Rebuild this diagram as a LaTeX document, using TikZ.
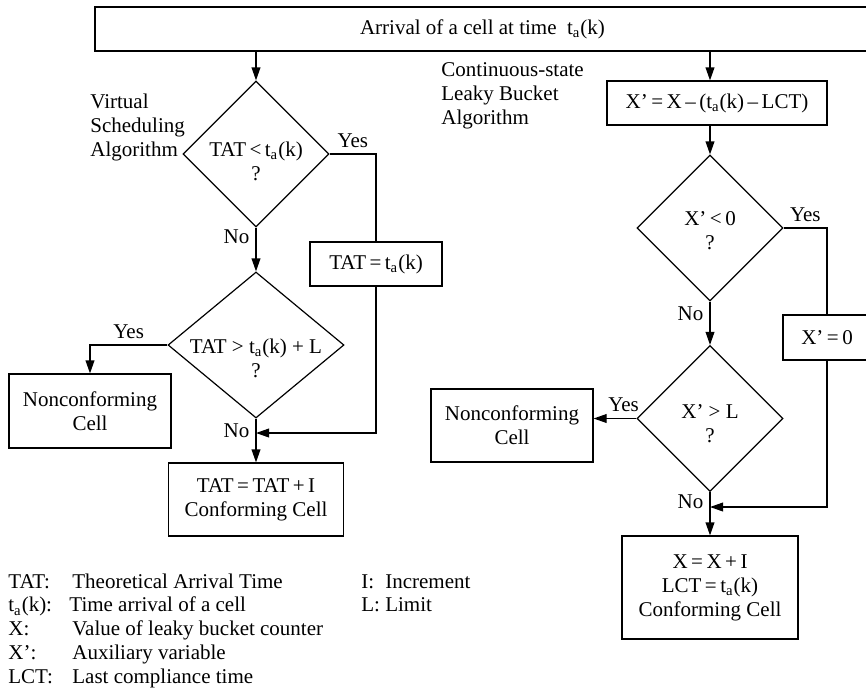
\documentclass[tikz,border=0pt]{standalone}
\usepackage{fontspec}
\setmainfont{Liberation Serif}
\usepackage{tikz}
\usetikzlibrary{arrows.meta,positioning,shapes.geometric}
\newcommand{\ta}{t\textsubscript{a}(k)}
\newcommand{\cond}[2][0pt]{\makebox[0pt]{\rule{0pt}{#1}#2}\\?}
\tikzset{
  flow/.style={line width=0.6pt,-{Triangle[length=6.5pt,width=4.4pt]}},
  link/.style={line width=0.6pt},
  process/.style={draw,line width=0.6pt,align=center,inner sep=2pt},
  decision/.style={draw,line width=0.6pt,diamond,align=center,inner sep=0pt,
    minimum width=73pt,minimum height=73pt},
  note/.style={align=left,inner sep=0pt},
  tag/.style={inner sep=3pt},
  keytext/.style={inner sep=0pt,font=\fontsize{10.5}{11.9}\selectfont}
}
\begin{document}
\begin{tikzpicture}[x=0.5pt,y=-0.5pt,font=\fontsize{10.5}{12}\selectfont]
  \useasboundingbox (0,0) rectangle (866,691);
  \node[process,minimum width=387.5pt,minimum height=22pt] (arr) at (482.5,29) {Arrival of a cell at time\ \ \ta};
  % virtual scheduling
  \node[decision] (d1) at (256,154) {\cond[14.3pt]{TAT\,<\,\ta}};
  \node[note,anchor=west] (vsa) at (90,127) {Virtual\\Scheduling\\Algorithm};
  \node[process,minimum width=66pt,minimum height=22pt] (b1) at (376,264) {TAT\,=\,\ta};
  \node[decision,minimum width=88pt] (d2) at (256,345) {\cond[20.3pt]{TAT > \ta{} + L}};
  \node[process,minimum width=81pt,minimum height=37pt] (nc1) at (90,411) {Nonconforming\\Cell};
  \node[process,minimum width=87.5pt,minimum height=36.5pt] (c1) at (256,499.5) {TAT\,=\,TAT\,+\,I\\Conforming Cell};
  \coordinate (j1) at (256,433);
  \draw[flow] (arr.south -| d1.north) -- (d1.north);
  \draw[flow] (d1.south) -- node[tag,left,pos=0.2]{No} (d2.north);
  \draw[link] (d1.east) -| node[tag,above,pos=0.25]{Yes} (b1.north);
  \draw[flow] (b1.south) |- (j1);
  \draw[flow] (d2.west) -| node[tag,above,pos=0.25]{Yes} (nc1.north);
  \draw[flow] (d2.south) -- node[tag,left,pos=0.27]{No} (c1.north);
  % leaky bucket
  \node[process,minimum width=110pt,minimum height=22pt] (xp) at (717,103) {X’\,=\,X\,–\,(\ta\,–\,LCT)};
  \node[note,anchor=west] (csa) at (441,96) {Continuous-state\\Leaky Bucket\\Algorithm};
  \node[decision] (d3) at (710,228) {\cond[9.6pt]{X’\,<\,0}};
  \node[process,minimum width=44pt,minimum height=22.5pt] (x0) at (827,337.5) {X’\,=\,0};
  \node[decision] (d4) at (710,418.5) {\cond[12.1pt]{X’ > L}};
  \node[process,minimum width=81pt,minimum height=36.5pt] (nc2) at (512,425.5) {Nonconforming\\Cell};
  \node[process,minimum width=88pt,minimum height=51.5pt] (c2) at (710,587.5) {X\,=\,X\,+\,I\\LCT\,=\,\ta\\Conforming Cell};
  \coordinate (j2) at (710,507);
  \draw[flow] (arr.south -| d3.north) -- (xp.north -| d3.north);
  \draw[flow] (xp.south -| d3.north) -- (d3.north);
  \draw[link] (d3.east) -| node[tag,above,pos=0.25]{Yes} (x0.north);
  \draw[flow] (d3.south) -- node[tag,left,pos=0.27]{No} (d4.north);
  \draw[flow] (d4.west) -- node[tag,above,pos=0.3]{Yes} (d4.west -| nc2.east);
  \draw[flow] (x0.south) |- (j2);
  \draw[flow] (d4.south) -- node[tag,left,pos=0.23]{No} (c2.north);
  % key
  \node[keytext,anchor=base west] (key) at (8,588) {\begin{tabular}[t]{@{}p{32pt}@{}l@{}}
    TAT: & Theoretical Arrival Time\\
    \ta: & \hspace*{-1.5pt}Time arrival of a cell\\
    X: & Value of leaky bucket counter\\
    X’: & Auxiliary variable\\
    LCT: & Last compliance time
  \end{tabular}};
  \node[keytext,anchor=base west] (key2) at (361,588) {\begin{tabular}[t]{@{}l@{\ }l@{}}
    I: & Increment\\
    L: & Limit
  \end{tabular}};
\end{tikzpicture}
\end{document}
